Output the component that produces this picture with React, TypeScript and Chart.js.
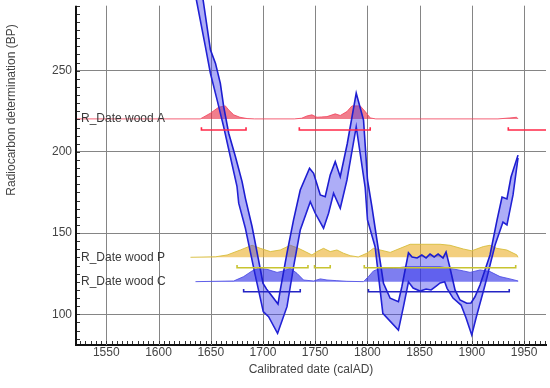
import React, { useEffect, useRef } from "react";
import { Chart, registerables } from "chart.js";

Chart.register(...registerables);

// ---------- axes ----------
const X_MIN = 1521;
const X_MAX = 1971;
const Y_MIN = 81.1;
const Y_MAX = 293.5;
const Y_AXIS_TOP = 290;
const xTickValues = [1550, 1600, 1650, 1700, 1750, 1800, 1850, 1900, 1950];
const yTickValues = [100, 150, 200, 250];
const xTitle = "Calibrated date (calAD)";
const yTitle = "Radiocarbon determination (BP)";

// ---------- calibration curve (upper / lower edge) ----------
const curveUpperYears = [1636, 1642.7, 1649.7, 1654.5, 1659.2, 1662.4, 1667.2, 1673.6, 1680, 1683.2, 1689.6, 1695, 1700.1, 1703.5, 1707.1, 1714.4, 1716.6, 1723, 1729.3, 1735.7, 1744.6, 1748.5, 1754.9, 1759.6, 1764.4, 1769.2, 1774, 1780.7, 1789.3, 1796.3, 1800.1, 1804.3, 1809.1, 1815.4, 1821.8, 1829.7, 1833, 1839.3, 1842.8, 1847.6, 1852.1, 1856.2, 1860, 1863.9, 1867.7, 1872.4, 1875.3, 1879.1, 1883.9, 1888.7, 1895.1, 1899.2, 1903, 1907.8, 1917.4, 1924.1, 1928.9, 1933.6, 1937.5, 1944.2];
const curveUpperBP = [322, 293.5, 262.8, 254.6, 242.2, 227.8, 211.5, 197.1, 181.7, 171.4, 153.9, 136, 119, 115.5, 112.5, 106.3, 115, 137.6, 158.1, 176.5, 189.9, 186.8, 173.5, 172.4, 185.8, 194, 184.7, 205, 236.1, 219.6, 182.7, 166.3, 145.8, 119.1, 109.9, 107.8, 117, 137.9, 135.3, 134.7, 136.5, 134.7, 137.1, 135.3, 137.1, 134.7, 138.4, 128.5, 115, 108.8, 106.8, 107, 110.8, 118, 136.5, 158, 172.2, 171, 184.5, 198];
const curveLowerYears = [1632, 1636.3, 1644.9, 1649.7, 1656.1, 1662.4, 1668.8, 1675.2, 1676.8, 1683.2, 1692, 1700.3, 1705.4, 1714, 1723, 1729.3, 1735.7, 1745.3, 1750.1, 1758, 1762.8, 1767.6, 1774, 1780.4, 1789.3, 1793.1, 1797.9, 1800.1, 1807.4, 1814.8, 1829.7, 1834.5, 1839.3, 1843.8, 1850.5, 1856.2, 1861, 1865.8, 1869.6, 1874, 1876.3, 1882, 1889.7, 1894.5, 1899.9, 1904, 1912.6, 1922.2, 1929.8, 1933.6, 1939.4, 1944.2];
const curveLowerBP = [310, 293.5, 264.8, 248.4, 232, 215.5, 197, 178.6, 168.4, 153, 126, 101.6, 98.5, 88.3, 104.7, 129.3, 151.9, 169.3, 162.2, 153, 162.2, 174.5, 165.3, 182.7, 215.5, 199.1, 178, 158.1, 141.6, 100.6, 90.3, 104.7, 120, 116.2, 114.3, 115.6, 115, 117.4, 119.3, 120, 116, 110, 105.7, 97.7, 87.3, 97.7, 118, 142.7, 156.8, 155, 173.5, 196.3];

// ---------- R_Date wood A ----------
const labelA = "R_Date wood A";
const baseA = 220.3;
const distAYears = [1521, 1640, 1649.7, 1657.6, 1664, 1667.2, 1672, 1678, 1684.8, 1692, 1730, 1737, 1742.1, 1746.9, 1751.7, 1756, 1761.3, 1769.2, 1774, 1780.4, 1785.2, 1793.1, 1797.9, 1802.7, 1808, 1925, 1936.5, 1942.9, 1944.2];
const distADensity = [0, 0, 3.5, 7.2, 8, 5.5, 2.5, 1, 0.2, 0, 0, 0.4, 1.8, 2.5, 1, 1.2, 1.4, 3.1, 2.1, 4.5, 8, 8, 4.5, 0.6, 0, 0, 0.6, 1, 0];
const rangeA_BP = 213.5;
const rangesA = [[1641.1, 1683.8], [1734.8, 1802.7], [1934.9, 1990]];

// ---------- R_Date wood P ----------
const labelP = "R_Date wood P";
const baseP = 135.1;
const distPYears = [1630.6, 1654.5, 1665.7, 1678.4, 1689.6, 1697.5, 1707.1, 1716.6, 1726.2, 1734.1, 1740.5, 1746.9, 1751.7, 1758, 1764.4, 1770.8, 1777.1, 1783.5, 1791.2, 1799.5, 1805.8, 1812.2, 1821.8, 1831.3, 1840.9, 1850.5, 1869.6, 1879.1, 1891.9, 1899.9, 1911, 1917.4, 1923.8, 1933.4, 1943, 1944.2];
const distPDensity = [0, 0.3, 1.4, 4.5, 7.4, 5.5, 3.5, 4.5, 7.4, 5.5, 3.5, 1.4, 3.5, 5.5, 3.5, 4.5, 2.5, 1, 0.2, 2.5, 5.5, 4.5, 3, 5.5, 8, 8, 8, 7.4, 5.1, 4, 6.6, 7.4, 5.5, 4.5, 1.5, 0];
const rangeP_BP = 128.7;
const rangesP = [[1675.2, 1743.1], [1749.4, 1764.4], [1797, 1942]];

// ---------- R_Date wood C ----------
const labelC = "R_Date wood C";
const baseC = 120.1;
const distCYears = [1635.4, 1672, 1681.5, 1689.6, 1695.9, 1703.9, 1713.5, 1719.8, 1726.2, 1732.6, 1738.9, 1748.5, 1754.9, 1761.3, 1770.8, 1780.4, 1796.3, 1801, 1805.8, 1812.2, 1824.9, 1837.8, 1869.6, 1882.3, 1891.9, 1898.3, 1907.9, 1917.4, 1927, 1936.5, 1944.4];
const distCDensity = [0, 0.4, 3.1, 6.6, 8.2, 7.6, 5.7, 6.6, 8.2, 5.1, 1, 0.4, 1.7, 1, 0.6, 0.2, 0, 3.1, 6.6, 8.2, 8.2, 9.2, 9.2, 7.8, 6.6, 5.7, 7.2, 6.2, 3.1, 1.7, 0.4];
const rangeC_BP = 113.9;
const rangesC = [[1681.5, 1735.7], [1801, 1935.8]];

const CAP = 1.6;
const FONT = "'Liberation Sans', Arial, sans-serif";
const TEXT_COLOR = "#444";
const GRID_COLOR = "#858585";

const toPoints = (xs: number[], ys: number[]) => xs.map((x, i) => ({ x, y: ys[i] }));
const distPoints = (xs: number[], hs: number[], base: number) =>
  xs.map((x, i) => ({ x, y: base + hs[i] }));
const rangePoints = (ranges: number[][], bp: number) => {
  const pts: { x: number; y: number | null }[] = [];
  ranges.forEach(([s, e], k) => {
    if (k > 0) pts.push({ x: s, y: null });
    pts.push({ x: s, y: bp + CAP }, { x: s, y: bp }, { x: e, y: bp }, { x: e, y: bp + CAP });
  });
  return pts;
};

const distLabels = [
  { text: labelA, base: baseA },
  { text: labelP, base: baseP },
  { text: labelC, base: baseC },
];

const overlayPlugin = {
  id: "overlay",
  beforeDatasetsDraw(chart: any) {
    const { ctx, chartArea, scales } = chart;
    const x = scales.x, y = scales.y;
    const top = y.getPixelForValue(Y_AXIS_TOP);
    ctx.save();
    ctx.strokeStyle = GRID_COLOR;
    ctx.lineWidth = 1;
    xTickValues.forEach((v) => {
      const px = Math.round(x.getPixelForValue(v)) + 0.5;
      ctx.beginPath();
      ctx.moveTo(px, top);
      ctx.lineTo(px, chartArea.bottom);
      ctx.stroke();
    });
    ctx.restore();
  },
  afterDatasetsDraw(chart: any) {
    const { ctx, chartArea, scales } = chart;
    const y = scales.y;
    ctx.save();
    ctx.font = `12px ${FONT}`;
    ctx.fillStyle = "#3a3a3a";
    ctx.textAlign = "left";
    ctx.textBaseline = "middle";
    distLabels.forEach((l) => {
      ctx.fillText(l.text, chartArea.left + 5, y.getPixelForValue(l.base));
    });
    ctx.restore();
  },
  afterDraw(chart: any) {
    const { ctx, chartArea, scales } = chart;
    const x = scales.x, y = scales.y;
    const top = y.getPixelForValue(Y_AXIS_TOP);
    ctx.save();
    // left axis line
    ctx.strokeStyle = "#111";
    ctx.lineWidth = 2;
    ctx.beginPath();
    ctx.moveTo(chartArea.left, top);
    ctx.lineTo(chartArea.left, chartArea.bottom + 1);
    ctx.stroke();
    // minor ticks
    ctx.lineWidth = 1;
    ctx.strokeStyle = "#333";
    for (let v = Math.ceil(X_MIN / 5) * 5; v <= X_MAX; v += 5) {
      const px = Math.round(x.getPixelForValue(v)) + 0.5;
      ctx.beginPath();
      ctx.moveTo(px, chartArea.bottom - 1);
      ctx.lineTo(px, chartArea.bottom - 4);
      ctx.stroke();
    }
    for (let v = Math.ceil(Y_MIN / 5) * 5; v <= Y_AXIS_TOP; v += 5) {
      const py = Math.round(y.getPixelForValue(v)) + 0.5;
      ctx.beginPath();
      ctx.moveTo(chartArea.left + 1, py);
      ctx.lineTo(chartArea.left + 4, py);
      ctx.stroke();
    }
    // y title
    ctx.translate(12, 110);
    ctx.rotate(-Math.PI / 2);
    ctx.font = `12px ${FONT}`;
    ctx.fillStyle = TEXT_COLOR;
    ctx.textAlign = "center";
    ctx.textBaseline = "middle";
    ctx.fillText(yTitle, 0, 0);
    ctx.restore();
  },
};

export default function App() {
  const canvasRef = useRef<HTMLCanvasElement | null>(null);

  useEffect(() => {
    if (!canvasRef.current) return;
    Chart.defaults.font.family = FONT;
    Chart.defaults.font.size = 12;

    const chart = new Chart(canvasRef.current, {
      type: "line",
      data: {
        datasets: [
          { label: "rangeA", data: rangePoints(rangesA, rangeA_BP), borderColor: "#ff2848", borderWidth: 1.6, fill: false, order: 0 },
          { label: "rangeP", data: rangePoints(rangesP, rangeP_BP), borderColor: "#c8c430", borderWidth: 1.6, fill: false, order: 0 },
          { label: "rangeC", data: rangePoints(rangesC, rangeC_BP), borderColor: "#2424c4", borderWidth: 1.6, fill: false, order: 0 },
          {
            label: "curveUpper",
            data: toPoints(curveUpperYears, curveUpperBP),
            borderColor: "#1c1cd0",
            borderWidth: 1.6,
            backgroundColor: "rgba(60,60,235,0.42)",
            fill: "+1",
            order: 1,
          },
          { label: "curveLower", data: toPoints(curveLowerYears, curveLowerBP), borderColor: "#1c1cd0", borderWidth: 1.6, fill: false, order: 1 },
          {
            label: labelA,
            data: distPoints(distAYears, distADensity, baseA),
            borderColor: "rgba(242,70,95,0.85)",
            borderWidth: 1,
            backgroundColor: "rgba(232,40,64,0.6)",
            fill: { value: baseA },
            order: 2,
          },
          {
            label: labelP,
            data: distPoints(distPYears, distPDensity, baseP),
            borderColor: "rgba(215,190,60,0.9)",
            borderWidth: 1,
            backgroundColor: "rgba(235,175,40,0.6)",
            fill: { value: baseP },
            order: 2,
          },
          {
            label: labelC,
            data: distPoints(distCYears, distCDensity, baseC),
            borderColor: "rgba(80,80,230,0.9)",
            borderWidth: 1,
            backgroundColor: "rgba(40,40,230,0.6)",
            fill: { value: baseC },
            order: 2,
          },
        ],
      },
      options: {
        animation: false,
        responsive: true,
        maintainAspectRatio: false,
        devicePixelRatio: 1,
        events: [],
        layout: { padding: { top: 0, right: 4, bottom: 0, left: 0 } },
        elements: { point: { radius: 0 }, line: { tension: 0 } },
        plugins: { legend: { display: false }, tooltip: { enabled: false } },
        scales: {
          x: {
            type: "linear",
            min: X_MIN,
            max: X_MAX,
            afterBuildTicks: (scale: any) => {
              scale.ticks = xTickValues.map((v) => ({ value: v }));
            },
            afterFit: (scale: any) => {
              scale.height = 43;
              scale.paddingLeft = 0;
              scale.paddingRight = 0;
            },
            grid: { display: false, drawTicks: false },
            border: { display: true, color: "#111", width: 2 },
            ticks: {
              color: TEXT_COLOR,
              padding: 0,
              autoSkip: false,
              maxRotation: 0,
              font: { size: 12 },
              callback: (v: any) => String(v),
            },
            title: { display: true, text: xTitle, color: TEXT_COLOR, font: { size: 12 }, padding: { top: 0, bottom: 11 } },
          },
          y: {
            type: "linear",
            min: Y_MIN,
            max: Y_MAX,
            afterBuildTicks: (scale: any) => {
              scale.ticks = yTickValues.map((v) => ({ value: v }));
            },
            afterFit: (scale: any) => {
              scale.width = 76;
              scale.paddingTop = 0;
              scale.paddingBottom = 0;
            },
            grid: { display: true, color: GRID_COLOR, lineWidth: 1, drawTicks: false },
            border: { display: false },
            ticks: { color: TEXT_COLOR, padding: 4, font: { size: 12 }, callback: (v: any) => String(v) },
          },
        },
      },
      plugins: [overlayPlugin],
    } as any);

    return () => chart.destroy();
  }, []);

  return (
    <div style={{ position: "fixed", left: 0, top: 0, width: 550, height: 388, background: "#fff" }}>
      <canvas ref={canvasRef} />
    </div>
  );
}
